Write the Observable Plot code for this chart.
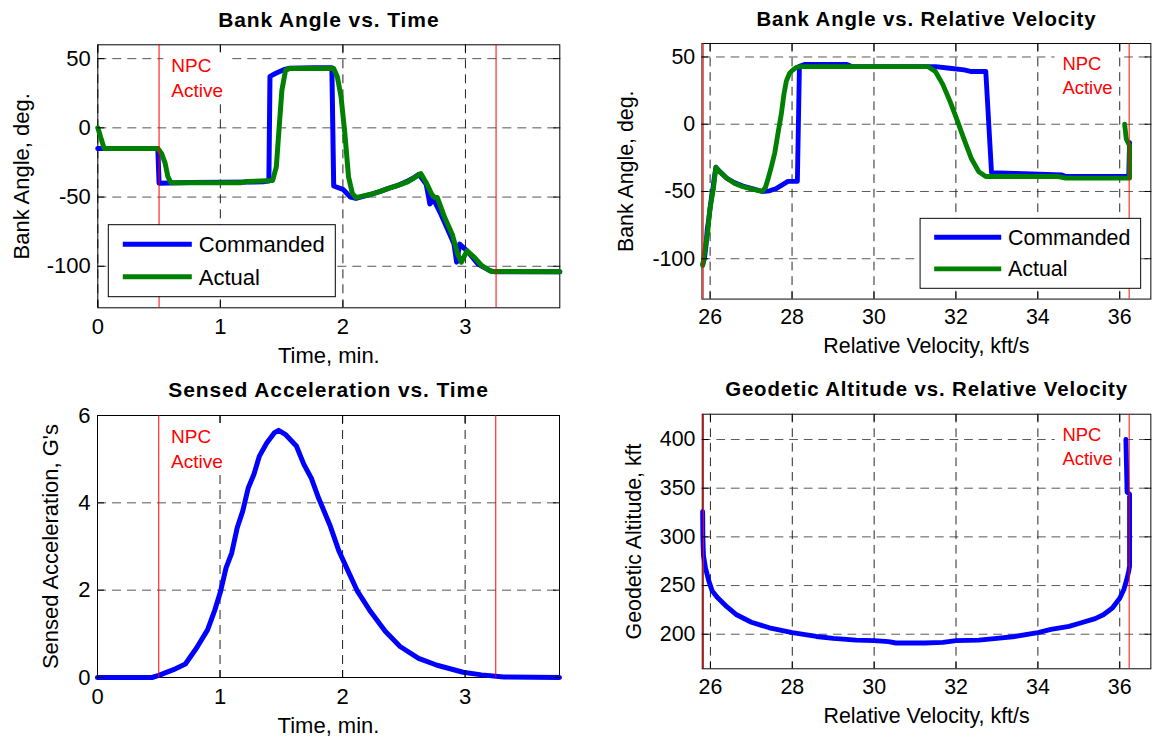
<!DOCTYPE html>
<html>
<head>
<meta charset="utf-8">
<script src="https://cdn.jsdelivr.net/npm/d3@7"></script>
<script src="https://cdn.jsdelivr.net/npm/@observablehq/plot@0.6"></script>
<style>
  html, body { margin: 0; padding: 0; background: #fff; overflow: hidden; }
  #fig { position: relative; width: 1163px; height: 740px; overflow: hidden; background: #fff; }
  .panel { position: absolute; }
</style>
</head>
<body>
<div id="fig"></div>
<script>
// ---- Series: bank angle vs. time (min) ----
const timeCmd  = [0, 0.49, 0.5, 0.75, 1.35, 1.39, 1.396, 1.405, 1.457, 1.517, 1.56, 1.76, 1.91, 1.925, 2.0, 2.061, 2.107, 2.227, 2.3, 2.378, 2.45, 2.529, 2.58, 2.62, 2.68, 2.71, 2.74, 2.80, 2.86, 2.907, 2.928, 2.953, 3.013, 3.103, 3.194, 3.24, 3.77];
const bankCmdT = [-15, -15, -40, -39.5, -39, -38.5, -38.4, 37.2, 39.6, 42, 43, 43.5, 43.5, -42, -44.4, -50, -51, -48, -46, -43.5, -41.5, -38.4, -36, -33.6, -40.8, -55, -51.6, -62.4, -74.4, -84, -97, -84, -88.8, -98.4, -103, -104, -104];
const timeAct  = [0, 0.052, 0.49, 0.52, 0.55, 0.572, 0.596, 1.17, 1.215, 1.427, 1.457, 1.478, 1.502, 1.532, 1.563, 1.925, 1.955, 1.985, 2.016, 2.046, 2.077, 2.107, 2.227, 2.3, 2.378, 2.45, 2.529, 2.636, 2.68, 2.725, 2.75, 2.771, 2.831, 2.892, 2.937, 2.967, 3.013, 3.073, 3.134, 3.209, 3.77];
const bankActT = [0, -15, -15, -18.5, -25.7, -35.3, -39.6, -39.6, -38.8, -38, -28, -2, 27, 41.6, 42.8, 42.8, 36.8, 22.4, -4, -35.3, -47.3, -50.4, -48, -46, -43.5, -41.5, -39, -33, -39.6, -48, -50.4, -50.4, -64.8, -76.8, -91.2, -97, -88.8, -93.6, -99.6, -103.7, -104];

// ---- Series: bank angle vs. relative velocity (kft/s) ----
const velCmd   = [25.82, 25.86, 25.9, 25.93, 25.97, 26.0, 26.03, 26.06, 26.1, 26.14, 26.2, 26.4, 26.6, 26.8, 27.05, 27.27, 27.45, 27.6, 27.82, 27.9, 28.13, 28.18, 28.32, 29.34, 29.47, 31.5, 31.85, 32.2, 32.38, 32.73, 32.87, 33.44, 34.59, 34.68, 36.22, 36.24];
const bankCmdV = [-104, -100, -90, -78, -70, -62, -55, -50, -40, -32, -34, -40, -43.5, -46, -48, -50, -49.5, -48, -44, -42.5, -42.5, 43, 44.5, 44.5, 42.8, 42.8, 41.6, 40.4, 39.2, 39.2, -36, -36.5, -37.7, -38.9, -38.9, -13.7];
const velAct   = [25.82, 25.88, 25.94, 25.97, 26.0, 26.04, 26.08, 26.14, 26.2, 26.4, 26.6, 26.8, 27.05, 27.27, 27.35, 27.42, 27.5, 27.58, 27.66, 27.74, 27.8, 27.86, 27.94, 28.02, 28.12, 28.22, 31.32, 31.5, 31.68, 31.85, 32.03, 32.2, 32.38, 32.56, 32.73, 34.5, 34.68, 36.24, 36.24, 36.16, 36.12];
const bankActV = [-105, -92, -81, -70, -62, -55, -48, -32, -34.5, -40, -44, -46.5, -48.5, -50, -47, -40, -31, -21, -6, 8, 22, 32, 38, 40.4, 42.5, 42.8, 42.8, 39.2, 29.6, 17.5, 3.1, -11.3, -25.7, -35.3, -38.9, -38.9, -40.1, -40.1, -16, -11, 0];

// ---- Series: sensed acceleration (G's) vs. time (min) ----
const accelTime = [0, 0.445, 0.5, 0.62, 0.717, 0.807, 0.898, 0.958, 1.004, 1.049, 1.095, 1.14, 1.185, 1.23, 1.276, 1.321, 1.381, 1.442, 1.478, 1.532, 1.623, 1.684, 1.744, 1.804, 1.895, 1.971, 2.046, 2.122, 2.228, 2.348, 2.469, 2.62, 2.771, 2.983, 3.134, 3.315, 3.77];
const accelG    = [0, 0, 0.05, 0.18, 0.31, 0.67, 1.09, 1.55, 1.97, 2.51, 2.85, 3.43, 3.81, 4.34, 4.65, 5.07, 5.37, 5.60, 5.66, 5.57, 5.30, 4.88, 4.57, 4.11, 3.50, 2.89, 2.43, 1.97, 1.51, 1.06, 0.71, 0.44, 0.28, 0.12, 0.06, 0.01, 0];

// ---- Series: geodetic altitude (kft) vs. relative velocity (kft/s) ----
const altVel = [25.81, 25.815, 25.83, 25.88, 25.96, 26.04, 26.16, 26.4, 26.64, 27.0, 27.44, 28.0, 28.59, 29.0, 29.56, 30.0, 30.35, 30.53, 31.23, 31.68, 32.0, 32.56, 33.0, 33.44, 34.0, 34.32, 34.76, 35.0, 35.4, 35.6, 35.82, 36.0, 36.1, 36.17, 36.22, 36.24, 36.24, 36.18, 36.15];
const altKft = [326, 300, 281, 268, 254.8, 244.8, 238.2, 228.3, 220, 212.3, 206.6, 201.7, 197.7, 195.7, 194, 193.4, 192.4, 191, 191, 191.7, 193.4, 194, 195.7, 197.7, 201.7, 205, 208, 211, 216, 220, 227, 237, 246, 256, 265, 270, 344, 346, 400];

// ---- Guidance window (NPC active) bounds ----
const npcTimeBounds = [0.5, 3.25];
const npcVelBounds  = [36.23, 25.83];
const npcNoteTime = 0.6;
const npcNoteVel  = 34.6;

// ---- Axis ticks and domains ----
const timeTicks  = [0, 1, 2, 3];
const velTicks   = [26, 28, 30, 32, 34, 36];
const bankTicks  = [-100, -50, 0, 50];
const accelTicks = [0, 2, 4, 6];
const altTicks   = [200, 250, 300, 350, 400];
const timeDomain  = [0, 3.77];
const velDomain   = [25.8, 36.76];
const bankDomain  = [-130, 60];
const accelDomain = [0, 6];
const altDomain   = [164.5, 426];

// ---- Legend ----
const seriesNames  = ["Commanded", "Actual"];
const seriesColors = ["#0000ff", "#008000"];

const FONT = '"Liberation Sans", Arial, Helvetica, sans-serif';
const SVGNS = "http://www.w3.org/2000/svg";
const fig = document.getElementById("fig");

function panel(cfg) {
  const [mt, mr, mb, ml] = cfg.margin;
  const fmt = d => String(d);
  const marks = [
    Plot.gridY(cfg.yTicks, {stroke: "#555", strokeOpacity: 1, strokeDasharray: "9,6"}),
    Plot.gridX(cfg.xTicks, {stroke: "#222", strokeOpacity: 1, strokeDasharray: "9,6"}),
    Plot.frame({stroke: "#000", strokeWidth: 1}),
    ...cfg.series.map(s => Plot.line(s.x, {x: s.x, y: s.y, stroke: s.color, strokeWidth: 5, strokeLinejoin: "round"})),
    Plot.ruleX(cfg.npcBounds, {stroke: "#ff0000", strokeWidth: 1}),
    Plot.axisX(cfg.xTicks, {anchor: "bottom", tickSize: -7, tickPadding: 17.4, fontSize: 22, tickFormat: fmt, label: null, fill: "#000"}),
    Plot.axisX(cfg.xTicks, {anchor: "top", tickSize: -7, tickFormat: () => "", label: null}),
    Plot.axisY(cfg.yTicks, {anchor: "left", tickSize: -7, tickPadding: 14, fontSize: 22, tickFormat: fmt, label: null, fill: "#000"}),
    Plot.axisY(cfg.yTicks, {anchor: "right", tickSize: -7, tickFormat: () => "", label: null}),
    Plot.text([cfg.title], {frameAnchor: "top", textAnchor: "middle", dy: cfg.titleDy, lineAnchor: "bottom", fontSize: 21, fontWeight: "bold", fill: "#000", ariaDescription: "panel title"}),
    Plot.text([cfg.xLabel], {frameAnchor: "bottom", textAnchor: "middle", dy: 55.6, lineAnchor: "bottom", fontSize: 22, fill: "#000"}),
    Plot.text([cfg.yLabel], {frameAnchor: "left", textAnchor: "middle", dx: cfg.yLabelDx, rotate: -90, lineAnchor: "bottom", fontSize: 22, fill: "#000"}),
    Plot.text([{x: cfg.noteX, label: "NPC\nActive"}], {x: "x", text: "label", frameAnchor: "top", dy: 10, lineAnchor: "top", lineHeight: 1.3, textAnchor: "start", fontSize: 19, fill: "#ff0000", ariaDescription: "npc note"})
  ];
  const svg = Plot.plot({
    width: cfg.width, height: cfg.height,
    marginTop: mt, marginRight: mr, marginBottom: mb, marginLeft: ml,
    x: {type: "linear", domain: cfg.xDomain},
    y: {type: "linear", domain: cfg.yDomain},
    style: {fontFamily: FONT, fontSize: "22px", background: "transparent", color: "#000", overflow: "visible"},
    marks
  });
  const holder = document.createElement("div");
  holder.className = "panel";
  holder.style.left = cfg.left + "px";
  holder.style.top = cfg.top + "px";
  holder.appendChild(svg);
  fig.appendChild(holder);

  // bold titles are set slightly tracked
  const titleG = svg.querySelector('g[aria-description="panel title"]');
  if (titleG) titleG.style.letterSpacing = "0.9px";

  // opaque box behind the annotation
  const note = svg.querySelector('g[aria-description="npc note"]');
  if (note) {
    const b = note.getBBox();
    const r = document.createElementNS(SVGNS, "rect");
    r.setAttribute("x", b.x - 8);
    r.setAttribute("y", b.y - 3);
    r.setAttribute("width", b.width + 14);
    r.setAttribute("height", b.height + 6);
    r.setAttribute("fill", "#fff");
    r.setAttribute("stroke", "none");
    note.insertBefore(r, note.firstChild);
  }

  // legend box inside the plot frame
  if (cfg.legend) {
    const w = 227, h = 72;
    const fx0 = ml, fx1 = cfg.width - mr, fy1 = cfg.height - mb;
    const lx = cfg.legend === "left" ? fx0 + 11 : fx1 - 10 - w;
    const ly = fy1 - 10.6 - h;
    const g = d3.select(svg).append("g")
      .attr("font-family", FONT).attr("font-size", 22).attr("text-anchor", "start");
    g.append("rect").attr("x", lx).attr("y", ly).attr("width", w).attr("height", h)
      .attr("fill", "#fff").attr("stroke", "#000").attr("stroke-width", 1);
    seriesNames.forEach((name, i) => {
      const yy = ly + 19.5 + i * 32.5;
      g.append("line").attr("x1", lx + 14.5).attr("x2", lx + 83.5).attr("y1", yy).attr("y2", yy)
        .attr("stroke", seriesColors[i]).attr("stroke-width", 5);
      g.append("text").attr("x", lx + 90.5).attr("y", yy + 7.8)
        .attr("text-anchor", "start").attr("fill", "#000").text(name);
    });
  }
}

panel({
  left: 0, top: 0, width: 580, height: 370, margin: [44.3, 20.7, 62.7, 97.3],
  xDomain: timeDomain, yDomain: bankDomain, xTicks: timeTicks, yTicks: bankTicks,
  title: "Bank Angle vs. Time", titleDy: -18.3, xLabel: "Time, min.", yLabel: "Bank Angle, deg.", yLabelDx: -69,
  series: [{x: timeCmd, y: bankCmdT, color: seriesColors[0]}, {x: timeAct, y: bankActT, color: seriesColors[1]}],
  npcBounds: npcTimeBounds, noteX: npcNoteTime, legend: "left"
});

panel({
  left: 580, top: 0, width: 600, height: 370, margin: [44.3, 13, 62.7, 125],
  xDomain: velDomain, yDomain: bankDomain, xTicks: velTicks, yTicks: bankTicks,
  title: "Bank Angle vs. Relative Velocity", titleDy: -18.3, xLabel: "Relative Velocity, kft/s", yLabel: "Bank Angle, deg.", yLabelDx: -70.5,
  series: [{x: velCmd, y: bankCmdV, color: seriesColors[0]}, {x: velAct, y: bankActV, color: seriesColors[1]}],
  npcBounds: npcVelBounds, noteX: npcNoteVel, legend: "right"
});

panel({
  left: 0, top: 370, width: 580, height: 370, margin: [45, 21, 63, 97],
  xDomain: timeDomain, yDomain: accelDomain, xTicks: timeTicks, yTicks: accelTicks,
  title: "Sensed Acceleration vs. Time", titleDy: -19, xLabel: "Time, min.", yLabel: "Sensed Acceleration, G's", yLabelDx: -40,
  series: [{x: accelTime, y: accelG, color: seriesColors[0]}],
  npcBounds: npcTimeBounds, noteX: npcNoteTime, legend: null
});

panel({
  left: 580, top: 370, width: 600, height: 370, margin: [45, 13, 63, 125.3],
  xDomain: velDomain, yDomain: altDomain, xTicks: velTicks, yTicks: altTicks,
  title: "Geodetic Altitude vs. Relative Velocity", titleDy: -19, xLabel: "Relative Velocity, kft/s", yLabel: "Geodetic Altitude, kft", yLabelDx: -63.5,
  series: [{x: altVel, y: altKft, color: seriesColors[0]}],
  npcBounds: npcVelBounds, noteX: npcNoteVel, legend: null
});
</script>
</body>
</html>
